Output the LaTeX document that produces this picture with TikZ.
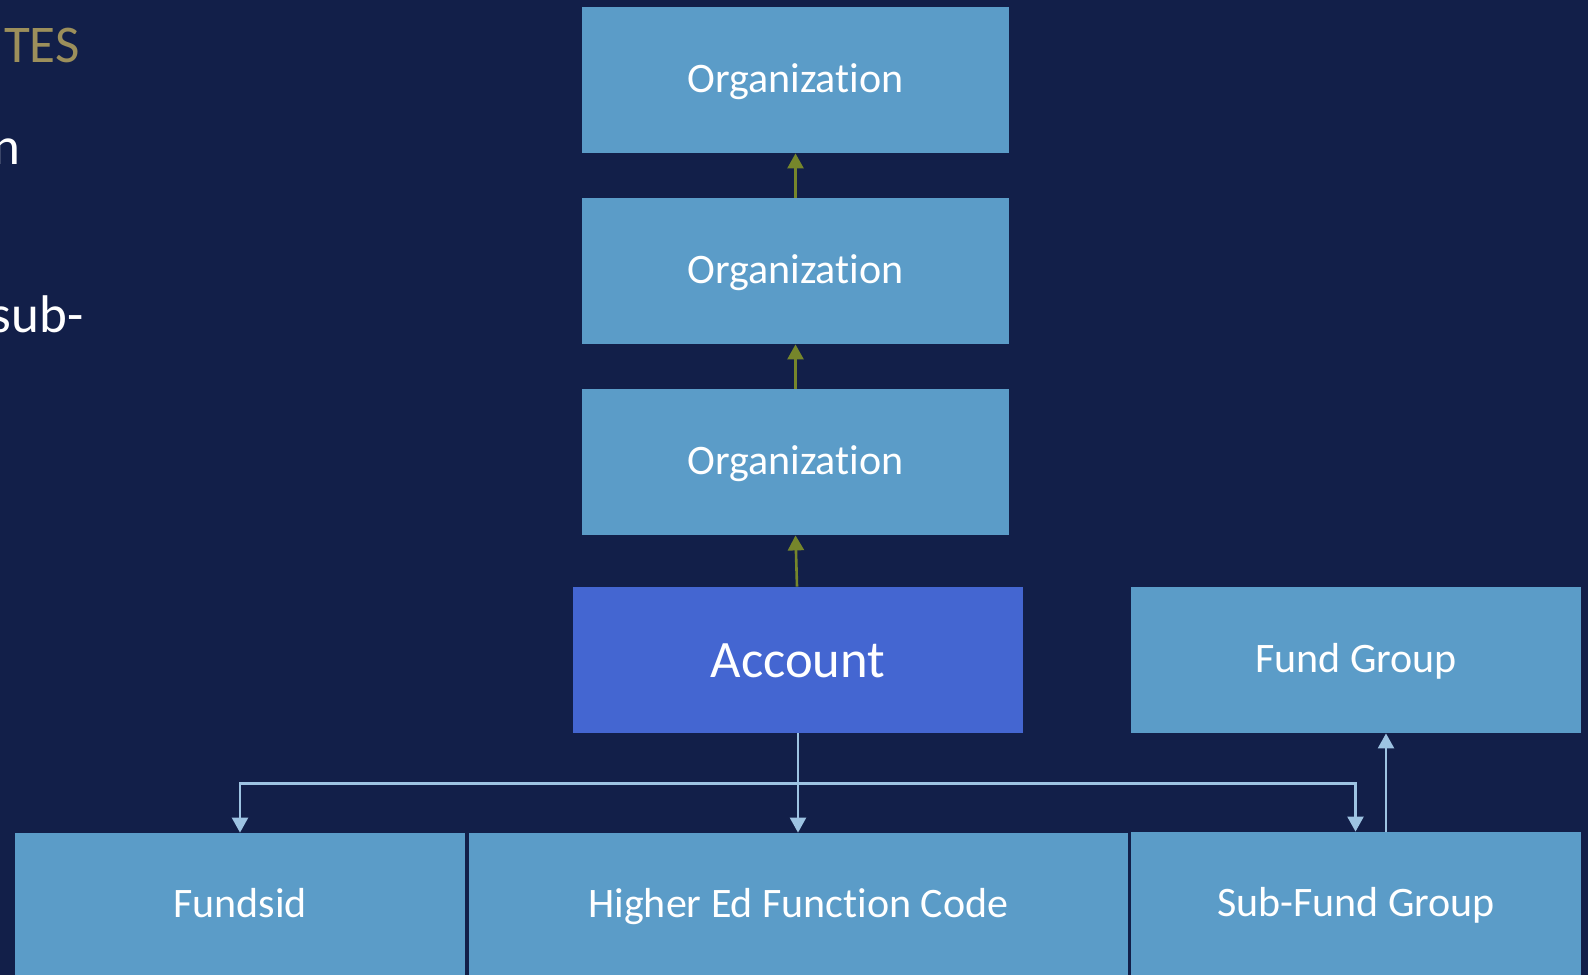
\documentclass[tikz,border=0pt]{standalone}
\usepackage{fontspec}
\setmainfont{Carlito}[Ligatures={NoCommon}]
\usetikzlibrary{arrows.meta,calc}
\definecolor{bgc}{HTML}{121F49}
\definecolor{boxc}{HTML}{5B9CC8}
\definecolor{acctc}{HTML}{4466D1}
\definecolor{grn}{HTML}{76862B}
\definecolor{lblue}{HTML}{9DC3E2}
\definecolor{gold}{HTML}{9C8F5B}
\tikzset{
  ent/.style={fill=boxc, draw=none, text=white, inner sep=0pt, font=\fontsize{21}{25}\selectfont,
    minimum height=73pt, text height=15pt, text depth=2.3pt},
  lowent/.style={ent, text height=15.5pt, text depth=2.3pt},
  orgbox/.style={ent, minimum width=213.5pt},
  acctbox/.style={ent, fill=acctc, minimum width=225pt, font=\fontsize{26.3}{30}\selectfont,
    text height=19pt, text depth=1.7pt},
  grnarrow/.style={draw=grn, line width=1.3pt, -{Triangle[length=7.5pt,width=8pt]}},
  bluearrow/.style={draw=lblue, line width=1.2pt, -{Triangle[length=7.5pt,width=8pt]}},
  sidetext/.style={inner sep=0pt, anchor=base east, font=\fontsize{26.5}{30}\selectfont}
}
\begin{document}
\begin{tikzpicture}[x=0.5pt,y=-0.5pt]
\fill[bgc] (0,0) rectangle (1588,975);
\useasboundingbox (0,0) rectangle (1588,975);
% side slide text (cut off at the left edge, as in the reference)
\node[sidetext, text=gold] (tes) at (80,62) {TES};
\node[sidetext, text=white] (tn) at (20.5,164) {n};
\node[sidetext, text=white] (tsub) at (84,332) {sub-};
% boxes
\node[orgbox] (org1) at (795.5,80) {Organization};
\node[orgbox] (org2) at (795.5,271) {Organization};
\node[orgbox] (org3) at (795.5,462) {Organization};
\node[acctbox] (acct) at (798,660) {Account};
\node[ent, minimum width=225pt] (fg) at (1356,660) {Fund Group};
\node[lowent, minimum width=225pt, minimum height=71pt] (fund) at (240,904) {Fundsid};
\node[lowent, minimum width=329.5pt, minimum height=71pt] (hed) at (798.5,904) {Higher Ed Function Code};
\node[lowent, minimum width=225pt, minimum height=71.5pt] (subf) at (1356,903.5) {Sub-Fund Group};
% connectors
\draw[grnarrow] (org2.north) -- (org1.south);
\draw[grnarrow] (org3.north) -- (org2.south);
\draw[grnarrow] ($(acct.north)+(-1,0)$) -- (org3.south);
\draw[bluearrow] (acct.south) -- ++(0,50) -| (fund.north);
\draw[bluearrow] (acct.south) -- (acct.south |- hed.north);
\draw[bluearrow] (acct.south) -- ++(0,50) -| ($(subf.north)+(-0.5,0)$);
\draw[bluearrow] ($(subf.north)+(30,0)$) -- ($(fg.south)+(30,0)$);
\end{tikzpicture}
\end{document}
